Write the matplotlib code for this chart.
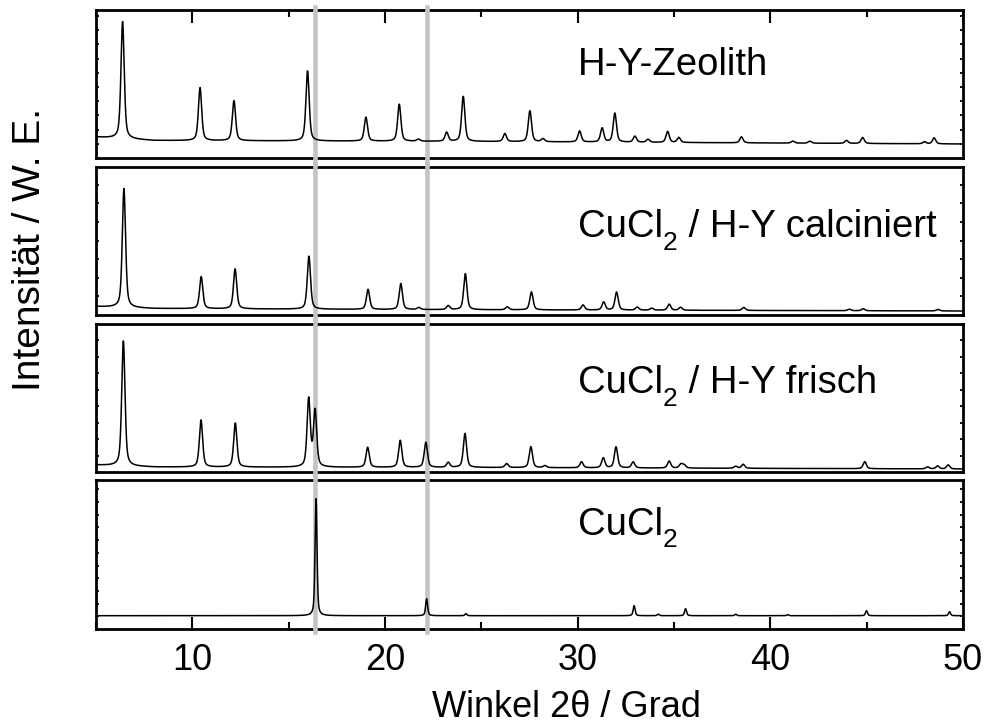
import numpy as np
import matplotlib
matplotlib.use("Agg")
import matplotlib.pyplot as plt
from matplotlib.ticker import MultipleLocator
import matplotlib.transforms as mtransforms

plt.rcParams['font.family'] = ['Liberation Sans', 'DejaVu Sans']

# ---- reflection lists (2theta in degrees, amplitude in a.u. above background) ----
hy_pos = [6.38, 10.40, 12.16, 15.98, 19.01, 20.74, 21.73, 23.20, 24.06, 26.22, 27.52,
          28.20, 30.10, 31.27, 31.93, 32.97, 33.65, 34.67, 35.25, 38.50, 41.17,
          42.05, 43.95, 44.79, 48.00, 48.50]
hy_amp = [117, 53, 40, 70, 24, 37, 2, 9, 45, 8, 31,
          3, 11, 14, 29, 6, 3, 11, 5, 6, 2,
          2, 3, 6, 2, 6]

calc_pos = [6.45, 10.46, 12.22, 16.05, 19.12, 20.82, 21.75, 23.28, 24.17, 26.35, 27.60,
            30.28, 31.35, 32.02, 33.09, 33.84, 34.75, 35.34, 38.62, 44.10, 44.82, 48.70]
calc_amp = [119, 32, 40, 53, 20, 26, 2, 4, 36, 3, 18,
            5, 8, 18, 3, 2, 6, 3, 3, 1.5, 2, 1.5]

fresh_pos = [6.42, 10.45, 12.23, 16.04, 16.37, 19.10, 20.79, 22.12, 23.28, 24.15, 26.31,
             27.57, 28.30, 30.20, 31.33, 31.99, 32.88, 34.75, 35.36, 35.53, 38.20,
             38.59, 44.90, 48.16, 48.68, 49.23]
fresh_amp = [125, 47, 44, 68, 56, 20, 27, 25, 5, 34, 4,
             21, 2, 6, 10, 21, 6, 7, 4, 3, 2,
             4, 7, 2, 3, 4]

cucl2_pos = [16.42, 22.16, 24.20, 32.93, 34.18, 35.60, 38.20, 40.90, 44.99, 49.30]
cucl2_amp = [117, 17, 2, 10, 1.5, 7, 1.5, 1, 5, 4]

# background levels (2theta, a.u.)
hy_bg_x, hy_bg_y = [5, 8, 25, 50], [21, 17.5, 16.5, 14]
calc_bg_x, calc_bg_y = [5, 8, 20, 50], [8.5, 6.5, 5.5, 4.0]
fresh_bg_x, fresh_bg_y = [5, 8, 25, 50], [7, 5, 4.5, 3]
cucl2_bg_x, cucl2_bg_y = [5, 50], [13.3, 13.3]

peak_fwhm = [0.20, 0.20, 0.20, 0.12]
panel_ytick_step = [14.2, 18.6, 16.5, 12.7]
# label pieces: (main text, subscript, rest)
panel_labels = [
    ("H-Y-Zeolith", "", ""),
    ("CuCl", "2", " / H-Y calciniert"),
    ("CuCl", "2", " / H-Y frisch"),
    ("CuCl", "2", ""),
]
panel_label_y = [0.561, 0.525, 0.532, 0.631]

marker_lines = [16.35, 22.18]
xticks_major = [10, 20, 30, 40, 50]

panels = [
    (hy_pos, hy_amp, hy_bg_x, hy_bg_y),
    (calc_pos, calc_amp, calc_bg_x, calc_bg_y),
    (fresh_pos, fresh_amp, fresh_bg_x, fresh_bg_y),
    (cucl2_pos, cucl2_amp, cucl2_bg_x, cucl2_bg_y),
]


def pattern(tt, pos, amp, bgx, bgy, fwhm, eta=0.5):
    y = np.interp(tt, bgx, bgy)
    hw = fwhm / 2.0
    for p, a in zip(pos, amp):
        u = (tt - p) / hw
        y = y + a * (eta / (1 + u ** 2) + (1 - eta) * np.exp(-np.log(2) * u ** 2))
    return y


tt = np.linspace(5, 50, 9001)

W, H = 990, 724
fig = plt.figure(figsize=(W / 100, H / 100), dpi=100)
left, right = 96, 963
boxes = [(10, 158), (167, 315), (324, 472), (480, 629)]
axes = []
for (top, bot) in boxes:
    ax = fig.add_axes([left / W, 1 - bot / H, (right - left) / W, (bot - top) / H])
    ax.set_facecolor('none')
    axes.append(ax)

LABEL_FS = 27.5
SUB_FS = 19

for i, ax in enumerate(axes):
    pos, amp, bgx, bgy = panels[i]
    top, bot = boxes[i]
    hpx = bot - top
    y = pattern(tt, pos, amp, bgx, bgy, peak_fwhm[i])
    ax.plot(tt, y, color='black', lw=1.1, zorder=4)
    ax.set_xlim(5, 50)
    ax.set_ylim(0, hpx)

    # reference lines through the stack
    if i < len(axes) - 1:
        gap = boxes[i + 1][0] - bot
        ymin = -gap / hpx
    else:
        ymin = -0.02
    for xl in marker_lines:
        ax.axvline(xl, ymin=ymin, ymax=1.02, color='#c4c4c4', lw=3.3,
                   clip_on=False, zorder=3)

    for s in ax.spines.values():
        s.set_linewidth(2.0)
        s.set_zorder(2.5)

    ax.yaxis.set_major_locator(MultipleLocator(panel_ytick_step[i]))
    ax.tick_params(axis='y', which='major', direction='in', left=True, right=True,
                   length=2.5, width=1.3, labelleft=False)
    ax.set_xticks(xticks_major)
    ax.xaxis.set_minor_locator(MultipleLocator(5))
    ax.tick_params(axis='x', which='both', direction='in', top=False, bottom=False,
                   labelbottom=False)

    main, sub, rest = panel_labels[i]
    ly = panel_label_y[i]
    t = ax.text(30, ly, main, fontsize=LABEL_FS,
                transform=mtransforms.blended_transform_factory(ax.transData, ax.transAxes),
                ha='left', va='baseline', zorder=5)
    if sub:
        t = ax.annotate(sub, xy=(1, ly), xycoords=(t, 'axes fraction'),
                        xytext=(0.3, -9), textcoords='offset points',
                        fontsize=SUB_FS, ha='left', va='baseline', zorder=5)
    if rest:
        ax.annotate(rest, xy=(1, ly), xycoords=(t, 'axes fraction'),
                    xytext=(0, 0), textcoords='offset points',
                    fontsize=LABEL_FS, ha='left', va='baseline', zorder=5)

axes[0].tick_params(axis='x', which='major', top=True, length=9, width=1.5)
axes[0].tick_params(axis='x', which='minor', top=True, length=5, width=1.5)
axes[-1].tick_params(axis='x', which='major', bottom=True, length=9, width=1.5,
                     labelbottom=True, labelsize=26, pad=10)
axes[-1].tick_params(axis='x', which='minor', bottom=True, length=5, width=1.5)

fig.text(566 / W, 1 - 717 / H, "Winkel 2θ / Grad", fontsize=26,
         ha='center', va='baseline')
fig.text(30 / W, 1 - 250 / H, "Intensität / W. E.", fontsize=28,
         rotation=90, ha='center', va='center')

fig.savefig("out.png", dpi=100)
